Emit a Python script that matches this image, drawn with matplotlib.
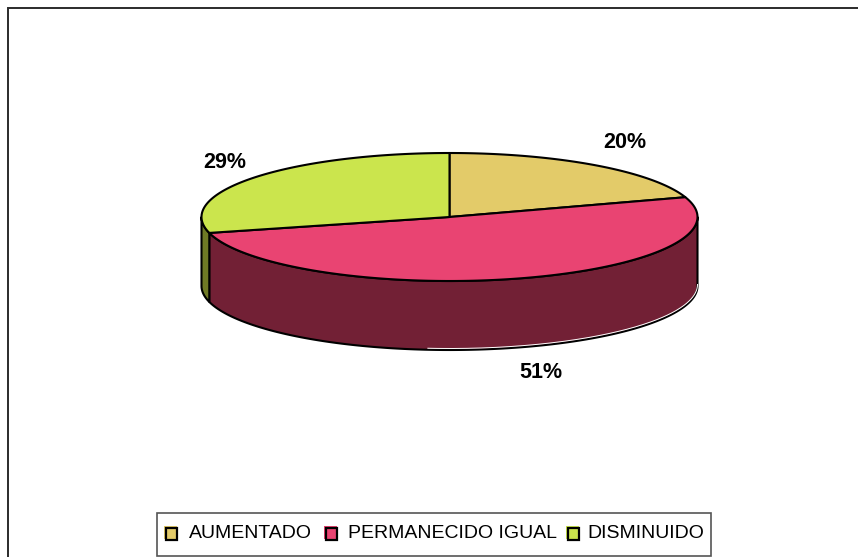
import numpy as np
import matplotlib
matplotlib.use("Agg")
import matplotlib.pyplot as plt
from matplotlib.patches import Polygon, Rectangle

plt.rcParams["font.family"] = ["Liberation Sans", "DejaVu Sans"]

categories = ["AUMENTADO", "PERMANECIDO IGUAL", "DISMINUIDO"]
values = [20, 51, 29]
labels = ["20%", "51%", "29%"]
top_colors = ["#E3CB69", "#E94472", "#CBE54D"]
side_colors = ["#716530", "#722035", "#6F7A25"]

# pie geometry in pixels of the 858x557 picture
cx, cy = 449.5, 217.0
rx, ry = 248.0, 64.0
depth = 69.0

label_pos = [(625, 143), (541, 372), (225, 162)]
legend_box = (157, 513, 554, 42.5)
legend_swatch_x = [164, 324, 566]
legend_text_x = [250.5, 452, 645.5]
legend_y = 533


def rim(a0, a1, n=200, dy=0.0):
    # angles in degrees, clockwise from 12 o'clock, squashed into an ellipse
    t = np.radians(np.linspace(a0, a1, n))
    return np.column_stack([cx + rx * np.sin(t), cy - ry * np.cos(t) + dy])


fig = plt.figure(figsize=(8.58, 5.57), dpi=100)
ax = fig.add_axes([0, 0, 1, 1])
ax.set_xlim(0, 858)
ax.set_ylim(557, 0)
ax.axis("off")

# only the top and left edge of the chart frame are visible
ax.plot([7.5, 7.5, 858], [557, 7.5, 7.5], color="#2b2b2b", lw=1.4, solid_joinstyle="miter")

edges = np.cumsum([0] + values) * 3.6

# side walls: only the front half of the disc (90..270 deg) shows
for i in range(len(values)):
    a0, a1 = max(edges[i], 90), min(edges[i + 1], 270)
    if a1 <= a0:
        continue
    up = rim(a0, a1)
    down = rim(a0, a1, dy=depth)
    wall = np.vstack([up, down[::-1]])
    ax.add_patch(Polygon(wall, closed=True, fc=side_colors[i], ec="black", lw=1.5, joinstyle="round"))

# thin white halo just inside the lower right rim
halo = rim(90, 185, dy=depth - 1.5)
ax.plot(halo[:, 0], halo[:, 1], color="white", lw=0.7)

# top faces
for i in range(len(values)):
    arc = rim(edges[i], edges[i + 1])
    face = np.vstack([[cx, cy], arc])
    ax.add_patch(Polygon(face, closed=True, fc=top_colors[i], ec="black", lw=1.5, joinstyle="round"))

for txt, (x, y) in zip(labels, label_pos):
    ax.text(x, y, txt, ha="center", va="center", fontsize=15.5, fontweight="bold", color="black")

# legend
bx, by, bw, bh = legend_box
ax.add_patch(Rectangle((bx, by), bw, bh, fc="white", ec="#555555", lw=1.2))
for i, name in enumerate(categories):
    sx = legend_swatch_x[i]
    ax.add_patch(Rectangle((sx, legend_y - 7), 13, 13, fc=top_colors[i], ec="none"))
    ax.add_patch(Rectangle((sx + 1.5, legend_y - 5), 11.5, 12, fc="none", ec="black", lw=1.6))
    ax.text(legend_text_x[i], legend_y, name, ha="center", va="center", fontsize=14, color="black")

fig.savefig("out.png", dpi=100)
